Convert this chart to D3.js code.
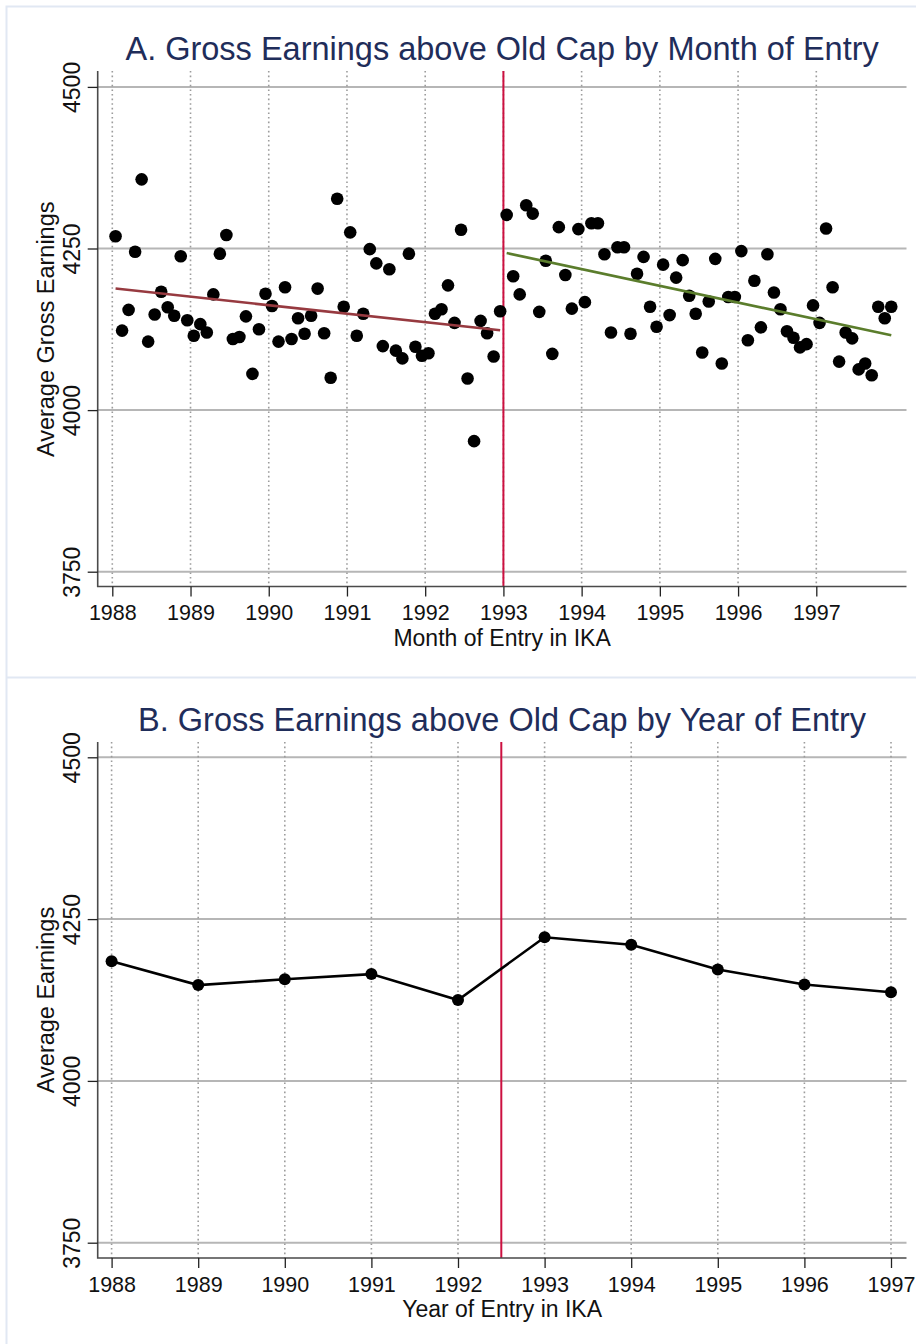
<!DOCTYPE html>
<html>
<head>
<meta charset="utf-8">
<script src="https://cdn.jsdelivr.net/npm/d3@7"></script>
<style>
  body { margin: 0; background: #fff; }
  svg { display: block; font-family: "Liberation Sans", Arial, sans-serif; }
</style>
</head>
<body>
<div id="chart"></div>
<script>
// tick labels
const yearTicks = [1988, 1989, 1990, 1991, 1992, 1993, 1994, 1995, 1996, 1997];
const earnTicks = [3750, 4000, 4250, 4500];

// panel A: monthly averages, Jan 1988 - Dec 1992 (before the reform)
const monthlyPre = [
  4269, 4123, 4155, 4245, 4357, 4106, 4148, 4183, 4159, 4146, 4238, 4139,
  4115, 4133, 4120, 4179, 4242, 4271, 4110, 4113, 4145, 4056, 4125, 4180,
  4161, 4106, 4190, 4110, 4142, 4118, 4146, 4188, 4119, 4050, 4327, 4160,
  4275, 4115, 4149, 4249, 4227, 4099, 4218, 4092, 4080, 4242, 4098, 4084,
  4088, 4149, 4156, 4193, 4135, 4279, 4049, 3952, 4138, 4119, 4083, 4153
];
// Jan 1993 - Dec 1997 (after)
const monthlyPost = [
  4302, 4207, 4179, 4317, 4304, 4152, 4231, 4087, 4283, 4209, 4157, 4280,
  4167, 4289, 4289, 4241, 4120, 4252, 4252, 4118, 4211, 4237, 4160, 4129,
  4225, 4147, 4205, 4232, 4177, 4149, 4089, 4168, 4234, 4072, 4175, 4175,
  4246, 4108, 4200, 4128, 4241, 4182, 4156, 4122, 4112, 4097, 4102, 4162,
  4135, 4281, 4190, 4075, 4120, 4111, 4063, 4072, 4054, 4160, 4142, 4160
];
// linear fit, value at first and last month of each side
const fitPre = [4188, 4123.5];
const fitPost = [4243, 4115.7];

// panel B: yearly averages
const entryYears = [1988, 1989, 1990, 1991, 1992, 1993, 1994, 1995, 1996, 1997];
const yearlyEarnings = [4185, 4148, 4157, 4165, 4125, 4222, 4210.5, 4172, 4149, 4137];

const cutoffMonth = 1993;
const cutoffYear = 1992.5;

const width = 916;
const height = 1344;
const left = 97.7;
const right = 906.5;

const monthPos = (i) => 1988 + (i + 0.5) / 12;

const svg = d3
  .select("#chart")
  .append("svg")
  .attr("width", width)
  .attr("height", height);

// panel frames
svg
  .append("path")
  .attr("d", `M6.5,${height}V6.5H${width}M6.5,677.5H${width}`)
  .attr("fill", "none")
  .attr("stroke", "#e1e8f3")
  .attr("stroke-width", 2);

const drawPanel = (p) => {
  const g = svg.append("g");

  // horizontal grid
  g.selectAll(".hgrid")
    .data(earnTicks)
    .join("line")
    .attr("class", "hgrid")
    .attr("x1", left)
    .attr("x2", right)
    .attr("y1", (d) => p.y(d))
    .attr("y2", (d) => p.y(d))
    .attr("stroke", "#b6b6b6")
    .attr("stroke-width", 2);

  // dotted vertical grid
  g.selectAll(".vgrid")
    .data(yearTicks)
    .join("line")
    .attr("class", "vgrid")
    .attr("x1", (d) => p.x(d))
    .attr("x2", (d) => p.x(d))
    .attr("y1", p.top)
    .attr("y2", p.axisY)
    .attr("stroke", "#9c9c9c")
    .attr("stroke-width", 1.6)
    .attr("stroke-dasharray", "1.6,3");

  // cutoff line
  g.append("line")
    .attr("x1", p.x(p.cutoff))
    .attr("x2", p.x(p.cutoff))
    .attr("y1", p.top)
    .attr("y2", p.axisY)
    .attr("stroke", "#cc1040")
    .attr("stroke-width", 2);

  // axis lines
  g.append("path")
    .attr("d", `M${left},${p.top}V${p.axisY}H${right}`)
    .attr("fill", "none")
    .attr("stroke", "#4a4a4a")
    .attr("stroke-width", 1.6);

  // x axis
  const xAxis = g
    .append("g")
    .attr("transform", `translate(0,${p.axisY})`)
    .call(
      d3.axisBottom(p.x)
        .tickValues(yearTicks)
        .tickFormat(d3.format("d"))
        .tickSize(10)
        .tickPadding(8.5)
    );
  xAxis.select(".domain").remove();
  xAxis.selectAll(".tick line").attr("stroke", "#222").attr("stroke-width", 1.3);
  xAxis
    .selectAll(".tick text")
    .attr("font-family", "Liberation Sans, Arial, sans-serif")
    .attr("font-size", 21.5)
    .attr("fill", "#111");

  // y axis
  const yAxis = g
    .append("g")
    .attr("transform", `translate(${left},0)`)
    .call(
      d3.axisLeft(p.y)
        .tickValues(earnTicks)
        .tickFormat(d3.format("d"))
        .tickSize(10)
    );
  yAxis.select(".domain").remove();
  yAxis.selectAll(".tick line").attr("stroke", "#222").attr("stroke-width", 1.3);
  yAxis
    .selectAll(".tick text")
    .attr("x", 0)
    .attr("dy", 0)
    .attr("text-anchor", "middle")
    .attr("transform", "translate(-17.7,0) rotate(-90)")
    .attr("font-family", "Liberation Sans, Arial, sans-serif")
    .attr("font-size", 23)
    .attr("fill", "#111");

  // titles
  g.append("text")
    .attr("x", (left + right) / 2)
    .attr("y", p.titleY)
    .attr("text-anchor", "middle")
    .attr("font-size", 32.5)
    .attr("fill", "#1f2d5a")
    .text(p.title);

  g.append("text")
    .attr("x", (left + right) / 2)
    .attr("y", p.axisY + 59)
    .attr("text-anchor", "middle")
    .attr("font-size", 23)
    .attr("fill", "#111")
    .text(p.xTitle);

  g.append("text")
    .attr("transform", `translate(54,${(p.y(3750) + p.y(4500)) / 2}) rotate(-90)`)
    .attr("text-anchor", "middle")
    .attr("font-size", 23.5)
    .attr("fill", "#111")
    .text(p.yTitle);

  return g;
};

// ---- panel A ----
const xA = d3.scaleLinear().domain([1988, 1997]).range([112.3, 816.3]);
const yA = d3.scaleLinear().domain([3750, 4500]).range([571.7, 86.9]);

const gA = drawPanel({
  x: xA,
  y: yA,
  top: 71,
  axisY: 586.5,
  cutoff: cutoffMonth,
  titleY: 60,
  title: "A. Gross Earnings above Old Cap by Month of Entry",
  xTitle: "Month of Entry in IKA",
  yTitle: "Average Gross Earnings",
});

const monthly = monthlyPre.concat(monthlyPost).map((v, i) => [monthPos(i), v]);

gA.selectAll(".dot")
  .data(monthly)
  .join("circle")
  .attr("class", "dot")
  .attr("cx", (d) => xA(d[0]))
  .attr("cy", (d) => yA(d[1]))
  .attr("r", 6.3)
  .attr("fill", "#000");

const fitLine = d3.line().x((d) => xA(d[0])).y((d) => yA(d[1]));

gA.append("path")
  .datum([[monthPos(0), fitPre[0]], [monthPos(monthlyPre.length - 1), fitPre[1]]])
  .attr("d", fitLine)
  .attr("fill", "none")
  .attr("stroke", "#973a40")
  .attr("stroke-width", 2.6);

gA.append("path")
  .datum([
    [monthPos(monthlyPre.length), fitPost[0]],
    [monthPos(monthlyPre.length + monthlyPost.length - 1), fitPost[1]],
  ])
  .attr("d", fitLine)
  .attr("fill", "none")
  .attr("stroke", "#5b7d2c")
  .attr("stroke-width", 2.6);

// ---- panel B ----
const xB = d3.scaleLinear().domain([1988, 1997]).range([111.6, 891]);
const yB = d3.scaleLinear().domain([3750, 4500]).range([1242.7, 757.3]);

const gB = drawPanel({
  x: xB,
  y: yB,
  top: 742,
  axisY: 1258,
  cutoff: cutoffYear,
  titleY: 730.7,
  title: "B. Gross Earnings above Old Cap by Year of Entry",
  xTitle: "Year of Entry in IKA",
  yTitle: "Average Earnings",
});

const yearly = entryYears.map((yr, i) => [yr, yearlyEarnings[i]]);

gB.append("path")
  .datum(yearly)
  .attr("d", d3.line().x((d) => xB(d[0])).y((d) => yB(d[1])))
  .attr("fill", "none")
  .attr("stroke", "#000")
  .attr("stroke-width", 2.6);

gB.selectAll(".ydot")
  .data(yearly)
  .join("circle")
  .attr("class", "ydot")
  .attr("cx", (d) => xB(d[0]))
  .attr("cy", (d) => yB(d[1]))
  .attr("r", 6)
  .attr("fill", "#000");
</script>
</body>
</html>
